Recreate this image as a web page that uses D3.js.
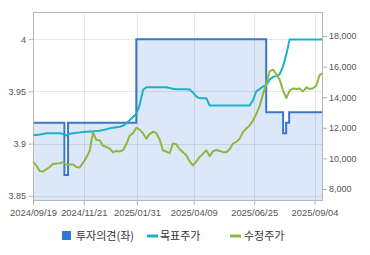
<!DOCTYPE html>
<html><head><meta charset="utf-8">
<script src="https://cdn.jsdelivr.net/npm/d3@7"></script>
<style>
html,body{margin:0;padding:0;background:#fff;}
svg{display:block;}
</style></head>
<body>
<svg id="c" width="370" height="255"></svg>
<script>
// ---- data ----
const totalDays = 240;                      // trading days shown
const tickDays = [0, 42, 86, 133, 183, 233];
const tickLabels = ["2024/09/19","2024/11/21","2025/01/31","2025/04/09","2025/06/25","2025/09/04"];
const leftTicks = [3.85, 3.9, 3.95, 4];
const rightTicks = [8000, 10000, 12000, 14000, 16000, 18000];

// 투자의견 (step changes)
const opinionDays   = [0,    26,   29,   85.5, 193,  207,  209.5, 212,  240];
const opinionValues = [3.92, 3.87, 3.92, 4.00, 3.93, 3.91, 3.92,  3.93, 3.93];

// 목표주가 (sampled, 88 points over the period)
const targetValues = [
 11530,11530,11560,11600,11640,11640,11640,11640,11640,11600,
 11500,11610,11650,11680,11700,11730,11745,11760,11760,11800,
 11810,11850,11900,11970,12000,12040,12070,12130,12300,12500,
 12700,12900,13500,14470,14650,14650,14650,14650,14650,14650,
 14650,14600,14560,14520,14520,14520,14520,14500,14300,14050,
 13930,13930,13930,13460,13460,13460,13460,13460,13460,13460,
 13460,13460,13460,13460,13460,13460,13800,14400,14530,14700,
 14800,15150,15330,15380,15500,16000,16800,17780,17780,17780,
 17780,17780,17780,17780,17780,17780,17780,17780];

// 수정주가 (sampled, 88 points over the period)
const priceValues = [
 9780,9540,9170,9140,9290,9440,9630,9670,9680,9750,
 9600,9610,9610,9440,9400,9720,10050,10500,11700,11200,
 11190,10830,10750,10640,10400,10490,10450,10540,10940,11480,
 11650,12000,11880,11650,11290,11600,11740,11650,11240,10520,
 10450,10340,10980,10920,10600,10400,10200,9800,9550,9800,
 10100,10310,10530,10150,10470,10550,10490,10410,10400,10600,
 10970,11080,11290,11720,11950,12160,12480,12900,13440,14200,
 14850,15700,15800,15500,15150,14450,13950,14430,14570,14530,
 14570,14380,14650,14540,14580,14770,15450,15580];

// ---- chart ----
const svg = d3.select("#c");
const M = {l:33, r:323, t:12, b:201};
const x = d3.scaleLinear().domain([0, totalDays]).range([M.l, M.r]);
const yL = d3.scaleLinear().domain([3.845, 4.026]).range([M.b, M.t]);
const yR = d3.scaleLinear().domain([7216, 19570]).range([M.b, M.t]);
const sampleDay = i => i * totalDays / (priceValues.length - 1);

const opinion = opinionDays.map((d,i)=>({d, v:opinionValues[i]}));
const target = targetValues.map((v,i)=>({d:sampleDay(i), v}));
const price = priceValues.map((v,i)=>({d:sampleDay(i), v}));

const font = "'Liberation Sans', Arial, sans-serif";

// opinion area
svg.append("path").datum(opinion)
  .attr("fill","#dce8f8")
  .attr("d", d3.area().curve(d3.curveStepAfter)
    .x(d=>x(d.d)).y0(M.b).y1(d=>yL(d.v)));

// grid
const g = svg.append("g");
g.selectAll(".hg").data(leftTicks).join("line")
  .attr("x1",M.l).attr("x2",M.r)
  .attr("y1",d=>Math.round(yL(d))+0.5).attr("y2",d=>Math.round(yL(d))+0.5)
  .attr("stroke","rgba(0,0,0,0.09)");
g.selectAll(".vg").data(tickDays.slice(1)).join("line")
  .attr("y1",M.t).attr("y2",M.b)
  .attr("x1",d=>Math.round(x(d))+0.5).attr("x2",d=>Math.round(x(d))+0.5)
  .attr("stroke","rgba(0,0,0,0.09)");

// lines
svg.append("path").datum(opinion)
  .attr("fill","none").attr("stroke","#3a76c9").attr("stroke-width",2)
  .attr("d", d3.line().curve(d3.curveStepAfter).x(d=>x(d.d)).y(d=>yL(d.v)));
svg.append("path").datum(target)
  .attr("fill","none").attr("stroke","#1bb1c8").attr("stroke-width",2)
  .attr("d", d3.line().x(d=>x(d.d)).y(d=>yR(d.v)));
svg.append("path").datum(price)
  .attr("fill","none").attr("stroke","#8cb840").attr("stroke-width",2)
  .attr("stroke-linejoin","round")
  .attr("d", d3.line().x(d=>x(d.d)).y(d=>yR(d.v)));

// frame
svg.append("rect").attr("x",M.l+0.5).attr("y",M.t+0.5)
  .attr("width",M.r-M.l-1).attr("height",M.b-M.t-1)
  .attr("fill","none").attr("stroke","#b8b8b8");

// axes
const axL = svg.append("g").attr("transform",`translate(${M.l},0)`)
  .call(d3.axisLeft(yL).tickValues(leftTicks).tickSize(4).tickPadding(3).tickFormat(d3.format("")));
const axR = svg.append("g").attr("transform",`translate(${M.r},0)`)
  .call(d3.axisRight(yR).tickValues(rightTicks).tickSize(4).tickPadding(2).tickFormat(d3.format(",")));
const axB = svg.append("g").attr("transform",`translate(0,${M.b})`)
  .call(d3.axisBottom(x).tickValues(tickDays).tickSize(4).tickPadding(4).tickFormat((d,i)=>tickLabels[i]));
[axL,axR,axB].forEach(a=>{
  a.select(".domain").remove();
  a.selectAll(".tick line").attr("stroke","#b0b0b0");
  a.selectAll("text").attr("fill","#555").style("font-family",font);
});
axL.selectAll("text").style("font-size","9px");
axR.selectAll("text").style("font-size","9px");
axB.selectAll("text").style("font-size","9.4px");

// legend
const lg = svg.append("g").style("font-family","'Noto Sans CJK KR', sans-serif").style("font-size","11px");
lg.append("rect").attr("x",62).attr("y",231).attr("width",9).attr("height",9).attr("fill","#2f79d6");
lg.append("text").attr("x",76).attr("y",240).attr("fill","#333").text("투자의견(좌)");
lg.append("line").attr("x1",147).attr("x2",158).attr("y1",236).attr("y2",236)
  .attr("stroke","#1bb1c8").attr("stroke-width",3);
lg.append("text").attr("x",160).attr("y",240).attr("fill","#333").text("목표주가");
lg.append("line").attr("x1",230).attr("x2",241).attr("y1",236).attr("y2",236)
  .attr("stroke","#8cb840").attr("stroke-width",3);
lg.append("text").attr("x",244).attr("y",240).attr("fill","#333").text("수정주가");
</script>
</body></html>
